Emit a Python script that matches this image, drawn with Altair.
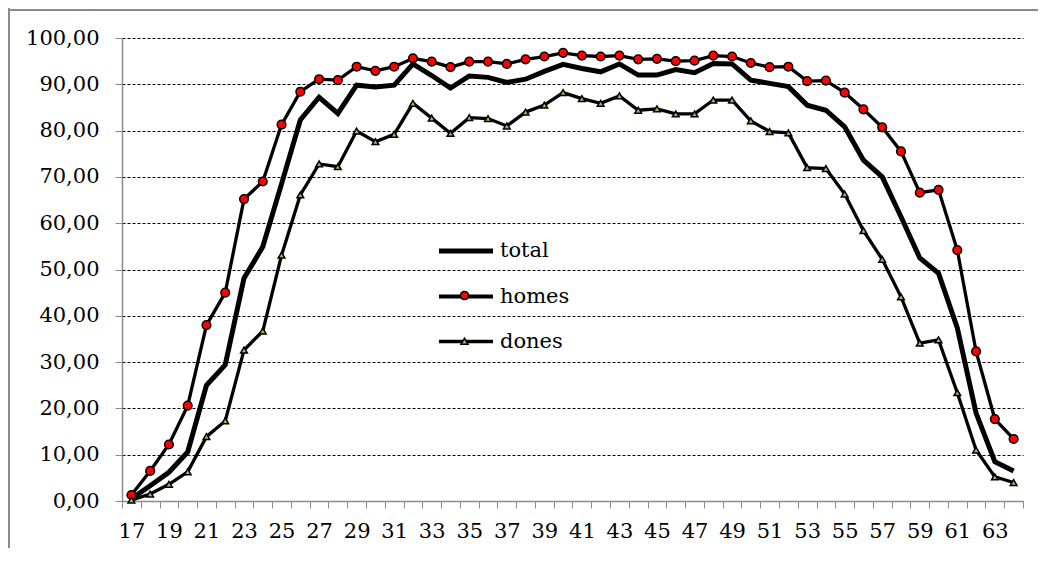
import altair as alt
import pandas as pd

ages = list(range(17, 65))
total = [0.5, 3.3, 6.2, 10.6, 25.0, 29.4, 48.1, 54.9, 68.5, 82.3,
         87.2, 83.7, 89.8, 89.4, 89.8, 94.4, 91.9, 89.2, 91.8, 91.5,
         90.4, 91.1, 92.8, 94.3, 93.4, 92.7, 94.4, 92.0, 92.0, 93.2,
         92.5, 94.5, 94.4, 90.9, 90.2, 89.5, 85.5, 84.4, 80.8, 73.6,
         70.0, 61.4, 52.5, 49.2, 37.4, 19.0, 8.5, 6.5]
homes = [1.3, 6.5, 12.2, 20.6, 38.0, 45.0, 65.2, 69.0, 81.3, 88.4,
         91.1, 90.9, 93.8, 92.9, 93.8, 95.6, 94.9, 93.7, 94.9, 94.9,
         94.4, 95.4, 96.0, 96.8, 96.2, 96.0, 96.2, 95.4, 95.5, 95.0,
         95.1, 96.2, 96.0, 94.6, 93.7, 93.8, 90.7, 90.8, 88.2, 84.6,
         80.7, 75.5, 66.6, 67.2, 54.2, 32.3, 17.7, 13.4]
dones = [0.2, 1.5, 3.6, 6.3, 13.9, 17.3, 32.6, 36.7, 53.1, 66.1,
         72.8, 72.2, 79.9, 77.6, 79.2, 85.9, 82.7, 79.4, 82.8, 82.6,
         81.0, 84.0, 85.5, 88.2, 86.9, 85.9, 87.5, 84.4, 84.7, 83.6,
         83.6, 86.6, 86.6, 82.1, 79.8, 79.5, 72.0, 71.8, 66.3, 58.4,
         52.2, 44.1, 34.1, 34.8, 23.4, 11.0, 5.2, 4.0]
series_names = ["total", "homes", "dones"]
series_colors = ["black", "#ff0000", "#9bbb59"]
series_widths = [5, 3.3, 3.3]
y_ticks = list(range(0, 101, 10))

df = pd.DataFrame({
    "age": ages * 3,
    "series": ["total"] * len(ages) + ["homes"] * len(ages) + ["dones"] * len(ages),
    "value": total + homes + dones,
})

FONT = "DejaVu Serif"
FS = 21
GRAY = "#8c8c8c"

x_enc = alt.X(
    "age:O",
    scale=alt.Scale(type="band", paddingInner=0, paddingOuter=0),
    axis=alt.Axis(
        title=None, labelAngle=0, tickBand="extent", tickSize=7,
        labelExpr="datum.value % 2 == 1 ? datum.label : ''",
        labelOverlap=False, labelPadding=12, grid=False,
        labelFont=FONT, labelFontSize=FS, labelColor="black",
    ),
)
y_enc = alt.Y(
    "value:Q",
    scale=alt.Scale(domain=[0, 100], nice=False, zero=True),
    axis=alt.Axis(
        title=None, values=y_ticks, tickSize=7, labelPadding=16,
        labelExpr="replace(format(datum.value, '.2f'), '.', ',')",
        grid=True, gridDash=[3, 2], gridColor="black", gridWidth=1,
        labelFont=FONT, labelFontSize=FS, labelColor="black",
    ),
)

base = alt.Chart(df)

line_total = base.transform_filter(alt.datum.series == "total").mark_line(
    color="black", strokeWidth=series_widths[0]).encode(x=x_enc, y=y_enc)
line_others = base.transform_filter(alt.datum.series != "total").mark_line(
    color="black", strokeWidth=series_widths[1]).encode(x=x_enc, y=y_enc, detail="series:N")
pts_homes = base.transform_filter(alt.datum.series == "homes").mark_point(
    shape="circle", filled=False, fill=series_colors[1], stroke="black",
    strokeWidth=1.5, size=75, opacity=1).encode(x=x_enc, y=y_enc)
pts_dones = base.transform_filter(alt.datum.series == "dones").mark_point(
    shape="triangle-up", filled=False, fill=series_colors[2], stroke="black",
    strokeWidth=1.5, size=45, opacity=1).encode(x=x_enc, y=y_enc)

LX, LY, ROW = 328, 197, 46

# legend with line symbols and labels
leg_lines = alt.Legend(
    title=None, orient="none", legendX=LX, legendY=LY, padding=0,
    symbolSize=729, symbolType="M-2,0L2,0", labelOffset=18, rowPadding=ROW - 26.5,
    labelFont=FONT, labelFontSize=FS, labelColor="black", symbolOpacity=1,
)
legend_lines = alt.Chart(pd.DataFrame({"series": series_names})).transform_filter(
    "false").mark_point(filled=False, size=729, opacity=1).encode(
    stroke=alt.Stroke("series:N", scale=alt.Scale(domain=series_names,
                      range=["black", "black", "black"]), legend=leg_lines),
    strokeWidth=alt.StrokeWidth("series:N", scale=alt.Scale(domain=series_names,
                      range=series_widths), legend=leg_lines),
)

# single-entry marker legends drawn over the line symbols (no labels)
path_circle = "M0.3,0A0.3,0.3,0,1,1,-0.3,0A0.3,0.3,0,1,1,0.3,0Z"
path_tri = "M-0.26,0.2L0,-0.24L0.26,0.2Z"


def marker_legend(name, color, path, row):
    key = name + " marker"
    leg = alt.Legend(
        title=None, orient="none", legendX=LX, legendY=LY + ROW * row, padding=0,
        symbolSize=729, symbolType=path, labelOffset=18, labelExpr="''",
        labelFont=FONT, labelFontSize=FS, labelColor="black",
        symbolOpacity=1, symbolStrokeWidth=1.5,
    )
    return alt.Chart(pd.DataFrame({"m": [key]})).transform_filter("false").mark_point(
        filled=False, stroke="black", strokeWidth=1.5, size=729, opacity=1).encode(
        fill=alt.Fill("m:N", scale=alt.Scale(domain=[key], range=[color]), legend=leg))


legend_homes = marker_legend("homes", series_colors[1], path_circle, 1)
legend_dones = marker_legend("dones", series_colors[2], path_tri, 2)

frame_df = pd.DataFrame({"k": [0]})
frame_top = alt.Chart(frame_df).mark_rect(color=GRAY, opacity=1).encode(
    x=alt.value(-114), x2=alt.value(916), y=alt.value(-29), y2=alt.value(-27))
frame_left = alt.Chart(frame_df).mark_rect(color=GRAY, opacity=1).encode(
    x=alt.value(-114), x2=alt.value(-112), y=alt.value(-30), y2=alt.value(510))

chart = alt.layer(
    line_total, line_others, pts_homes, pts_dones, legend_lines,
    legend_homes, legend_dones, frame_top, frame_left
).resolve_scale(fill="independent").properties(
    width=901, height=463, padding=0
).configure_view(
    stroke=None
).configure_axis(
    labelFont=FONT, labelFontSize=FS, labelColor="black",
    domainColor=GRAY, tickColor=GRAY, domainWidth=1.5, tickWidth=1,
)

chart.save("out.html", embed_options={"renderer": "svg", "actions": False})
